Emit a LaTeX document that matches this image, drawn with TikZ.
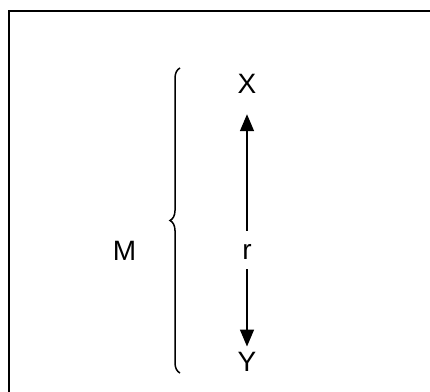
\documentclass[tikz,border=0pt]{standalone}
\usepackage{fontspec}
\setmainfont{Liberation Sans}
\usetikzlibrary{arrows.meta,decorations.pathreplacing}

\tikzset{
	lbl/.style={inner sep=0pt, anchor=base, font=\fontsize{28}{28}\selectfont},
	dist/.style={line width=1.5pt, -{Triangle[length=17pt,width=14pt]}}
}

\begin{document}
\begin{tikzpicture}[x=1pt,y=-1pt]
			%%%%% START %%%%%
			\useasboundingbox (0, 0) rectangle (430, 391);
			
			\draw[line width=2pt] (8.5, 420) -- (8.5, 11) -- (460, 11);
			
			\node[lbl] (X) at (247, 93) {X};
			\node[lbl] (r) at (247, 259) {r};
			\node[lbl] (Y) at (247, 371) {Y};
			\node[lbl] (M) at (124.5, 260) {M};
			
			\draw[dist, shorten <=13pt, shorten >=21pt] (r.north) -- (X.south);
			\draw[dist, shorten <=10pt, shorten >=5pt] (r.south) -- (Y.north);
			
			\draw[line width=1.5pt, decorate, decoration={brace, amplitude=10pt, aspect=0.5}] (180, 373) -- (180, 68);
			
			%%%%% END %%%%%
		\end{tikzpicture}
\end{document}
